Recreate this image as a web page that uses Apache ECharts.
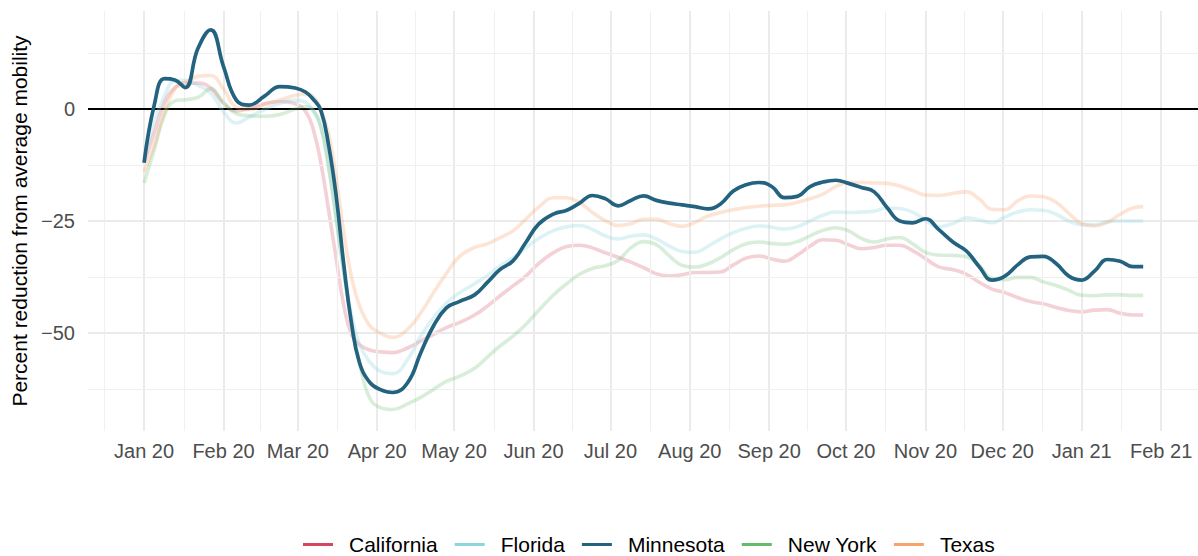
<!DOCTYPE html>
<html>
<head>
<meta charset="utf-8">
<script src="https://cdn.jsdelivr.net/npm/echarts@6/dist/echarts.min.js"></script>
<style>
html,body{margin:0;padding:0;background:#fff;}
#chart{width:1198px;height:556px;}
</style>
</head>
<body>
<div id="chart"></div>
<script>
// Days since 1 Jan 2020
const days = [0,4,8,12,16,21,26,31,36,41,47,53,59,63,66,69,72,75,78,81,84,88,92,97,103,108,113,118,123,129,134,139,144,149,154,160,165,170,175,180,185,190,195,200,205,210,215,220,225,230,235,240,245,250,255,260,265,270,275,280,285,290,295,300,305,310,316,321,326,331,336,341,346,351,356,361,366,371,376,381,386,390];

const california = [-12,-5.2,1.5,4.8,5.8,5.8,4.7,1.3,-0.4,0.1,1.2,1.7,1.2,-0.5,-4.5,-12,-22.5,-33.5,-44,-50.5,-52.6,-53.8,-54.2,-54.4,-53.3,-51.8,-50.3,-48.8,-47.7,-46,-44,-41.7,-39.5,-37.3,-34.5,-32,-30.7,-30.4,-31,-32.1,-33.1,-34.2,-35.4,-36.8,-37.3,-37,-36.5,-36.5,-36.4,-34.8,-33.3,-32.8,-33.5,-34,-32.6,-30.6,-29.2,-29.3,-30.3,-31.2,-30.9,-30.4,-30.4,-31.6,-33.4,-35.2,-35.9,-36.9,-38.7,-40.2,-41,-42.1,-43,-43.5,-44.3,-45,-45.3,-44.9,-44.8,-45.6,-46,-46];

const florida = [-11,-3,3,6.3,6.4,5.3,3.6,-0.6,-3.1,-1.8,-0.1,1.3,2,1.5,-0.3,-4,-12.5,-24.5,-36.6,-46,-52.5,-56.4,-58.5,-59.1,-55.8,-50.7,-46.6,-43.3,-41.1,-39,-37.2,-35,-33.2,-31,-28.9,-27.1,-26.3,-26,-26.9,-28.3,-29,-28.4,-28.1,-29,-30.6,-31.8,-32,-30.7,-29,-27.6,-26.6,-26.1,-26.4,-26.8,-26.3,-25,-23.7,-23,-23.1,-23,-22.8,-22.1,-22.2,-23,-24.8,-26.3,-25.5,-24.3,-24.8,-25.4,-24.1,-23,-22.5,-22.6,-23.5,-25,-25.8,-25.8,-25.2,-25,-25,-25];

const minnesota = [-12,1,6.8,6.5,4.8,13.5,17.7,9.5,2,0.9,2.9,5,4.7,3.8,2.2,-0.3,-8,-19.5,-35,-48,-56.5,-61,-62.6,-63.3,-61,-54.4,-48.4,-44.4,-43,-41.5,-38.7,-35.8,-33.9,-29.8,-25.7,-23.4,-22.6,-21,-19.3,-20,-21.6,-20.4,-19.4,-20.4,-21,-21.4,-21.8,-22.3,-21.2,-18.3,-16.9,-16.4,-17.3,-19.8,-19.5,-17.3,-16.3,-15.9,-16.6,-17.5,-18.5,-22,-25,-25.4,-24.5,-26.8,-29.8,-31.7,-35.2,-38.2,-37.3,-34.8,-33,-32.9,-34.5,-37.3,-38.2,-36.2,-33.6,-34,-35.2,-35.2];

const newYork = [-16.5,-9,-1.3,1.8,2.1,2.6,4.5,1.4,-1,-1.5,-1.6,-1.2,0,0.5,-0.3,-4,-13,-24.5,-36.6,-47.5,-56.5,-64.5,-66.6,-67.1,-65.8,-64.4,-62.6,-60.8,-59.7,-57.9,-55.4,-52.9,-50.7,-48.1,-45,-41.4,-39,-36.9,-35.6,-35,-33.8,-31,-29.6,-30.3,-32.8,-34.9,-35.3,-34.6,-33.2,-31.4,-30.1,-29.7,-30,-30.2,-29.6,-28.3,-27.1,-26.5,-27.2,-28.9,-29.7,-29,-28.7,-30.1,-32,-32.6,-32.7,-33,-34.9,-37.8,-38.1,-37.6,-37.6,-38.6,-39.4,-40.5,-41.6,-41.7,-41.5,-41.5,-41.6,-41.6];

const texas = [-14,-8,-0.6,4.5,5.9,7.3,7.5,4.5,0.4,-0.1,1,2,3.1,3.3,2.8,0,-5.5,-15.5,-27.7,-37.6,-43.8,-48.3,-50,-51,-49.1,-45.5,-41,-36.7,-33,-30.9,-30.1,-28.7,-27.2,-24.6,-21.9,-19.8,-19.8,-20.9,-23.1,-24.9,-26,-25.6,-24.6,-24.6,-25.6,-26.2,-25.3,-23.9,-23.1,-22.5,-22,-21.7,-21.5,-21.4,-20.8,-20,-19,-17.3,-16.4,-16.4,-16.5,-16.6,-17.2,-18.2,-19.2,-19.3,-18.8,-18.5,-20.1,-22.4,-22.5,-20.5,-19.4,-19.6,-20.8,-23.3,-25.6,-26.1,-25.3,-23.5,-22.1,-21.8];

// Tick positions (days since 1 Jan 2020) and labels
const monthDays = [0,31,60,91,121,152,182,213,244,274,305,335,366,397];
const monthLabels = ['Jan 20','Feb 20','Mar 20','Apr 20','May 20','Jun 20','Jul 20','Aug 20','Sep 20','Oct 20','Nov 20','Dec 20','Jan 21','Feb 21'];
const minorDays = [-15.5,15.5,45.5,75.5,106,136.5,167,197.5,228.5,259,289.5,320,350.5,381.5];
const yMajor = [-50,-25,0];
const yMinor = [-62.5,-37.5,-12.5,12.5];

const FONT = '"Liberation Sans", Arial, sans-serif';

function pairs(vals){ return days.map((d,i)=>[d, vals[i]]); }

const states = [
  {name:'California', vals:california, color:'#d1495b', faded:'rgba(209,73,91,0.25)'},
  {name:'Florida', vals:florida, color:'#8dd4de', faded:'rgba(141,212,222,0.3)'},
  {name:'New York', vals:newYork, color:'#66bb6a', faded:'rgba(102,187,106,0.25)'},
  {name:'Texas', vals:texas, color:'#f8a36b', faded:'rgba(248,163,107,0.28)'},
  {name:'Minnesota', vals:minnesota, color:'#23637f', faded:'#23637f'}
];

const gridLines = [];
monthDays.forEach(d=>gridLines.push({xAxis:d, lineStyle:{color:'#ebebeb', width:2, type:'solid'}}));
minorDays.forEach(d=>gridLines.push({xAxis:d, lineStyle:{color:'#f0f0f0', width:1.2, type:'solid'}}));
yMajor.forEach(v=>gridLines.push({yAxis:v, lineStyle:{color:'#ebebeb', width:2, type:'solid'}}));
yMinor.forEach(v=>gridLines.push({yAxis:v, lineStyle:{color:'#f0f0f0', width:1.2, type:'solid'}}));

const series = [{
  type:'line', name:'_grid', data:[], silent:true, z:1,
  markLine:{silent:true, symbol:['none','none'], label:{show:false}, animation:false, data:gridLines}
}, {
  type:'line', name:'_zero', data:[], silent:true, z:3,
  markLine:{silent:true, symbol:['none','none'], label:{show:false}, animation:false,
    data:[{yAxis:0, lineStyle:{color:'#000', width:2, type:'solid'}}]}
}];

states.forEach((s,i)=>{
  series.push({
    type:'line', name:s.name, data:pairs(s.vals), smooth:0.45, showSymbol:false, symbol:'none',
    z: s.name==='Minnesota' ? 10 : 4+i,
    itemStyle:{color:s.color},
    lineStyle:{color:s.faded, width: s.name==='Minnesota' ? 3.7 : 3.6},
    emphasis:{disabled:true}
  });
});

const chart = echarts.init(document.getElementById('chart'), null, {renderer:'svg'});
chart.setOption({
  animation:false,
  backgroundColor:'#fff',
  textStyle:{fontFamily:FONT},
  grid:{left:88, right:0, top:11, bottom:125, containLabel:false},
  xAxis:{
    type:'value', min:-21.9, max:411.4,
    axisLine:{show:false}, axisTick:{show:false}, splitLine:{show:false},
    axisLabel:{
      customValues:monthDays, showMinLabel:true, showMaxLabel:true,
      margin:10, fontSize:20, color:'#4d4d4d', fontFamily:FONT,
      formatter:function(v){ const i = monthDays.indexOf(v); return i>=0 ? monthLabels[i] : ''; }
    }
  },
  yAxis:{
    type:'value', min:-71.9, max:21.9,
    axisLine:{show:false}, axisTick:{show:false}, splitLine:{show:false},
    axisLabel:{
      customValues:yMajor, margin:13, fontSize:20, color:'#4d4d4d', fontFamily:FONT,
      formatter:function(v){ return v<0 ? '\u2212'+Math.abs(v) : String(v); }
    },
    name:'Percent reduction from average mobility', nameLocation:'middle', nameGap:55, nameRotate:90,
    nameTextStyle:{fontSize:21, color:'#000', fontFamily:FONT}
  },
  legend:{
    data:['California','Florida','Minnesota','New York','Texas'],
    left:298, top:529, icon:'rect', itemWidth:30, itemHeight:3, itemGap:17,
    textStyle:{fontSize:21, color:'#000', fontFamily:FONT, padding:[0,0,0,11]},
    selectedMode:false
  },
  series:series
});
</script>
</body>
</html>
